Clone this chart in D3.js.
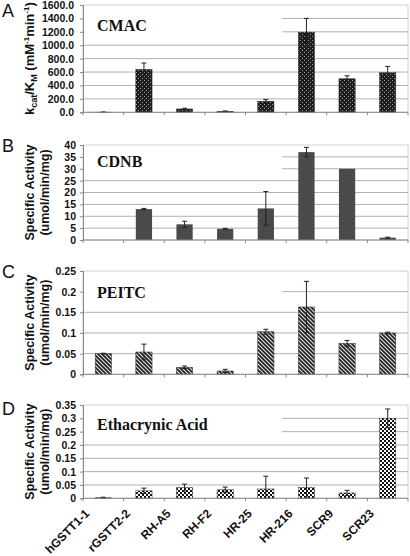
<!DOCTYPE html>
<html><head><meta charset="utf-8">
<script src="https://cdn.jsdelivr.net/npm/d3@7"></script>
<style>body{margin:0;background:#fff}svg{display:block}</style>
</head><body>
<script>
const categories = ["hGSTT1-1","rGSTT2-2","RH-A5","RH-F2","HR-25","HR-216","SCR9","SCR23"];
const cmacValues = [2, 640, 50, 15, 165, 1195, 500, 590];
const cmacErrors = [1, 95, 10, 5, 25, 205, 45, 95];
const cdnbValues = [0, 13, 6.6, 4.7, 13.3, 37, 30, 1];
const cdnbErrors = [0, 0.3, 1.3, 0.2, 7.1, 2, 0, 0.2];
const peitcValues = [0.05, 0.054, 0.017, 0.008, 0.103, 0.163, 0.075, 0.1];
const peitcErrors = [0.001, 0.019, 0.003, 0.004, 0.006, 0.062, 0.007, 0.002];
const eaValues = [0.002, 0.028, 0.04, 0.032, 0.035, 0.04, 0.02, 0.3];
const eaErrors = [0.002, 0.01, 0.013, 0.01, 0.048, 0.036, 0.01, 0.035];
const cmacTicks = [0,200,400,600,800,1000,1200,1400,1600];
const cdnbTicks = [0,5,10,15,20,25,30,35,40];
const peitcTicks = [0,0.05,0.1,0.15,0.2,0.25];
const eaTicks = [0,0.05,0.1,0.15,0.2,0.25,0.3,0.35];

const W = 410, H = 556;
const svg = d3.select("body").append("svg").attr("width", W).attr("height", H);
const defs = svg.append("defs");

const pA = defs.append("pattern").attr("id","patA").attr("patternUnits","userSpaceOnUse").attr("width",4).attr("height",4);
pA.append("rect").attr("width",4).attr("height",4).attr("fill","#1e1e1e");
pA.append("rect").attr("x",0).attr("y",0).attr("width",1).attr("height",1).attr("fill","#9a9a9a");
pA.append("rect").attr("x",2).attr("y",2).attr("width",1).attr("height",1).attr("fill","#9a9a9a");
const pC = defs.append("pattern").attr("id","patC").attr("patternUnits","userSpaceOnUse").attr("width",4).attr("height",4);
pC.append("rect").attr("width",4).attr("height",4).attr("fill","#e0e0e0");
pC.append("path").attr("d","M-1,-1 L5,5 M-1,3 L1,5 M3,-1 L5,1").attr("stroke","#222").attr("stroke-width",1.7);
const pD = defs.append("pattern").attr("id","patD").attr("patternUnits","userSpaceOnUse").attr("width",4).attr("height",4);
pD.append("rect").attr("width",4).attr("height",4).attr("fill","#fff");
pD.append("rect").attr("x",0).attr("y",0).attr("width",2).attr("height",2).attr("fill","#111");
pD.append("rect").attr("x",2).attr("y",2).attr("width",2).attr("height",2).attr("fill","#111");

const x = d3.scaleBand().domain(categories).range([83, 408]).paddingInner(0.6).paddingOuter(0.3);

const panels = [
  {letter:"A", letterY:17, values:cmacValues, errors:cmacErrors, ticks:cmacTicks, fmt:d3.format(".1f"), top:5, bottom:112.3, fill:"url(#patA)", title:"CMAC", titleY:31, boxBottom:36, tickEnd:74},
  {letter:"B", letterY:152, values:cdnbValues, errors:cdnbErrors, ticks:cdnbTicks, fmt:d3.format("d"), top:145, bottom:240, fill:"#4a4a4a", title:"CDNB", titleY:167, boxBottom:172, tickEnd:76},
  {letter:"C", letterY:278, values:peitcValues, errors:peitcErrors, ticks:peitcTicks, fmt:d => d===0?"0":String(d), top:271, bottom:374.3, fill:"url(#patC)", title:"PEITC", titleY:298, boxBottom:302, tickEnd:76},
  {letter:"D", letterY:415, values:eaValues, errors:eaErrors, ticks:eaTicks, fmt:d => d===0?"0":String(d), top:405, bottom:498.3, fill:"url(#patD)", title:"Ethacrynic Acid", titleY:430, boxBottom:435, tickEnd:76}
];

panels.forEach((p, pi) => {
  const g = svg.append("g");
  const max = p.ticks[p.ticks.length-1];
  const y = d3.scaleLinear().domain([0, max]).range([p.bottom, p.top]);
  g.append("rect").attr("x",83).attr("y",p.top).attr("width",325).attr("height",p.bottom-p.top)
    .attr("fill","none").attr("stroke","#d0d0d0").attr("stroke-width",1);
  g.append("g").selectAll("line").data(p.ticks.filter(t => t>0 && t<max)).join("line")
    .attr("x1",83).attr("x2",408).attr("y1",d=>y(d)).attr("y2",d=>y(d))
    .attr("stroke","#b0b0b0").attr("stroke-width",1);
  g.append("rect").attr("x",84).attr("y",p.top+1).attr("width",198).attr("height",p.boxBottom-p.top-1).attr("fill","#fff");
  g.append("text").attr("x",97).attr("y",p.titleY).text(p.title)
    .attr("font-family","Liberation Serif, Times New Roman, serif").attr("font-weight","bold").attr("font-size",16).attr("fill","#111");
  g.append("g").selectAll("rect").data(categories).join("rect")
    .attr("x",d=>x(d)).attr("width",x.bandwidth())
    .attr("y",(d,i)=>y(p.values[i])).attr("height",(d,i)=>p.bottom-y(p.values[i]))
    .attr("fill",p.fill).attr("stroke", pi===1 ? "none" : "#333").attr("stroke-width",0.5);
  const eg = g.append("g").attr("stroke","#222").attr("stroke-width",1);
  categories.forEach((c,i) => {
    const e = p.errors[i];
    if (!e) return;
    const cx = x(c) + x.bandwidth()/2;
    const v = p.values[i];
    const lo = Math.max(0, v - e);
    eg.append("line").attr("x1",cx).attr("x2",cx).attr("y1",y(lo)).attr("y2",y(v+e));
    eg.append("line").attr("x1",cx-2.5).attr("x2",cx+2.5).attr("y1",y(v+e)).attr("y2",y(v+e));
    eg.append("line").attr("x1",cx-2.5).attr("x2",cx+2.5).attr("y1",y(lo)).attr("y2",y(lo));
  });
  const ya = g.append("g").attr("transform","translate(83,0)")
    .call(d3.axisLeft(y).tickValues(p.ticks).tickFormat(p.fmt).tickSize(3).tickPadding(83-3-p.tickEnd));
  ya.select(".domain").attr("stroke","#888");
  ya.selectAll(".tick line").attr("stroke","#888");
  ya.selectAll("text").attr("font-family","Liberation Sans, Arial, sans-serif").attr("font-weight","bold").attr("font-size",10.5).attr("fill","#111");
  g.append("line").attr("x1",83).attr("x2",408).attr("y1",p.bottom).attr("y2",p.bottom).attr("stroke","#888");
  const bounds = d3.range(categories.length+1).map(i => 83 + i*325/categories.length);
  g.append("g").selectAll("line").data(bounds).join("line")
    .attr("x1",d=>d).attr("x2",d=>d).attr("y1",p.bottom).attr("y2",p.bottom+3).attr("stroke","#888");
  if (pi === 3) {
    categories.forEach(d => {
      const cx = x(d) + x.bandwidth()/2;
      svg.append("text")
        .attr("transform", `translate(${cx - 13},${p.bottom + 16}) rotate(-45)`)
        .attr("text-anchor","end")
        .attr("font-family","Liberation Sans, Arial, sans-serif").attr("font-weight","bold").attr("font-size",12).attr("fill","#111")
        .text(d);
    });
  }
  svg.append("text").attr("x",2).attr("y",p.letterY).text(p.letter)
    .attr("font-family","Liberation Sans, Arial, sans-serif").attr("font-size",18).attr("fill","#111");
  const cy = (p.top + p.bottom)/2;
  if (pi === 0) {
    const t = svg.append("text").attr("transform",`translate(34,${cy}) rotate(-90)`).attr("text-anchor","middle")
      .attr("font-family","Liberation Sans, Arial, sans-serif").attr("font-weight","bold").attr("font-size",13).attr("fill","#111");
    t.append("tspan").text("k");
    t.append("tspan").attr("font-size",9).attr("dy",3).text("cat");
    t.append("tspan").attr("dy",-3).text("/K");
    t.append("tspan").attr("font-size",9).attr("dy",3).text("M");
    t.append("tspan").attr("dy",-3).text(" (mM");
    t.append("tspan").attr("font-size",8).attr("dy",-5).text("-1");
    t.append("tspan").attr("dy",5).text("min");
    t.append("tspan").attr("font-size",8).attr("dy",-5).text("-1");
    t.append("tspan").attr("dy",5).text(")");
  } else {
    const t = svg.append("text").attr("transform",`translate(34,${cy}) rotate(-90)`).attr("text-anchor","middle")
      .attr("font-family","Liberation Sans, Arial, sans-serif").attr("font-weight","bold").attr("font-size",12.5).attr("fill","#111");
    t.append("tspan").attr("x",0).attr("dy",0).text("Specific Activity");
    t.append("tspan").attr("x",0).attr("dy",15).text("(umol/min/mg)");
  }
});
</script>
</body></html>
